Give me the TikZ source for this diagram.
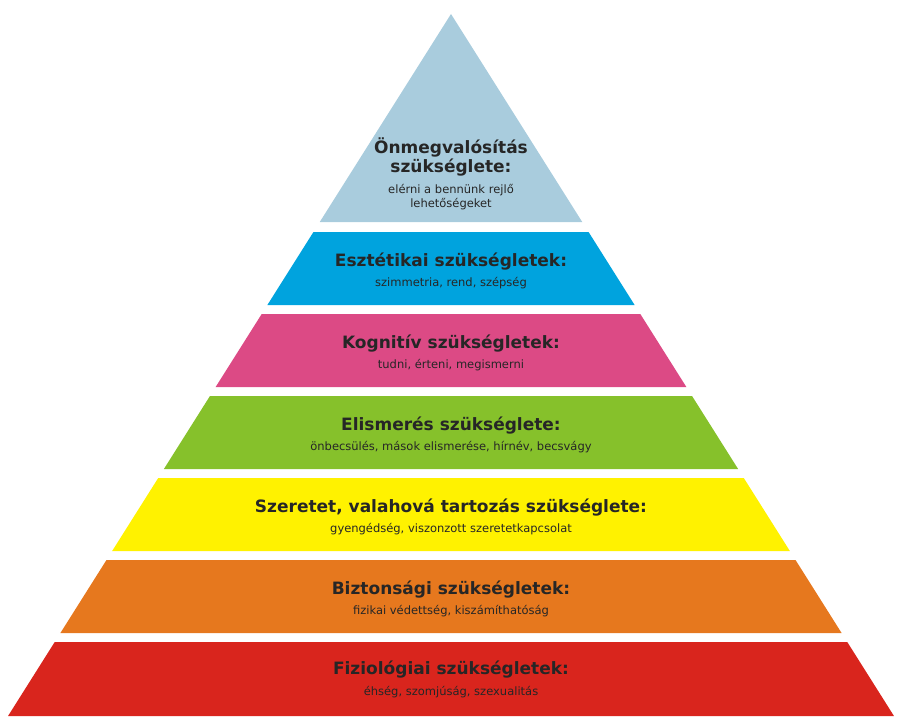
\documentclass[tikz,border=0pt]{standalone}
\usepackage{fontspec}
\setmainfont{DejaVu Sans}
\definecolor{c1}{HTML}{A9CCDD}
\definecolor{c2}{HTML}{00A3DE}
\definecolor{c3}{HTML}{DC4A85}
\definecolor{c4}{HTML}{86C12B}
\definecolor{c5}{HTML}{FFF200}
\definecolor{c6}{HTML}{E6781E}
\definecolor{c7}{HTML}{D9251D}
\begin{document}
\begin{tikzpicture}[x=1pt,y=-1pt,
  ttl/.style={font=\fontsize{17}{19}\selectfont\bfseries,text=black!85,align=center},
  sub/.style={font=\fontsize{11.5}{14}\selectfont,text=black!85,align=center}]
\useasboundingbox (0,0) rectangle (901,717);
\def\k{0.631}
\newcommand\layer[3]{%
  \fill[#1] ({451-\k*(#2-14)},#2) -- ({451+\k*(#2-14)},#2) -- ({451+\k*(#3-14)},#3) -- ({451-\k*(#3-14)},#3) -- cycle;}
\fill[c1] (451,14) -- ({451+\k*208},222) -- ({451-\k*208},222) -- cycle;
\layer{c2}{232}{305}
\layer{c3}{314}{387}
\layer{c4}{396}{469}
\layer{c5}{478}{551}
\layer{c6}{560}{633}
\layer{c7}{642}{716}
\node[ttl] (t1) at (451,157) {Önmegvalósítás\\szükséglete:};
\node[sub] (s1) at (451,197) {elérni a bennünk rejlő\\lehetőségeket};
\node[ttl] (t2) at (451,262) {Esztétikai szükségletek:};
\node[sub] (s2) at (451,283) {szimmetria, rend, szépség};
\node[ttl] (t3) at (451,344) {Kognitív szükségletek:};
\node[sub] (s3) at (451,365) {tudni, érteni, megismerni};
\node[ttl] (t4) at (451,426) {Elismerés szükséglete:};
\node[sub] (s4) at (451,447) {önbecsülés, mások elismerése, hírnév, becsvágy};
\node[ttl] (t5) at (451,508) {Szeretet, valahová tartozás szükséglete:};
\node[sub] (s5) at (451,529) {gyengédség, viszonzott szeretetkapcsolat};
\node[ttl] (t6) at (451,590) {Biztonsági szükségletek:};
\node[sub] (s6) at (451,611) {fizikai védettség, kiszámíthatóság};
\node[ttl] (t7) at (451,670) {Fiziológiai szükségletek:};
\node[sub] (s7) at (451,692) {éhség, szomjúság, szexualitás};
\end{tikzpicture}
\end{document}
